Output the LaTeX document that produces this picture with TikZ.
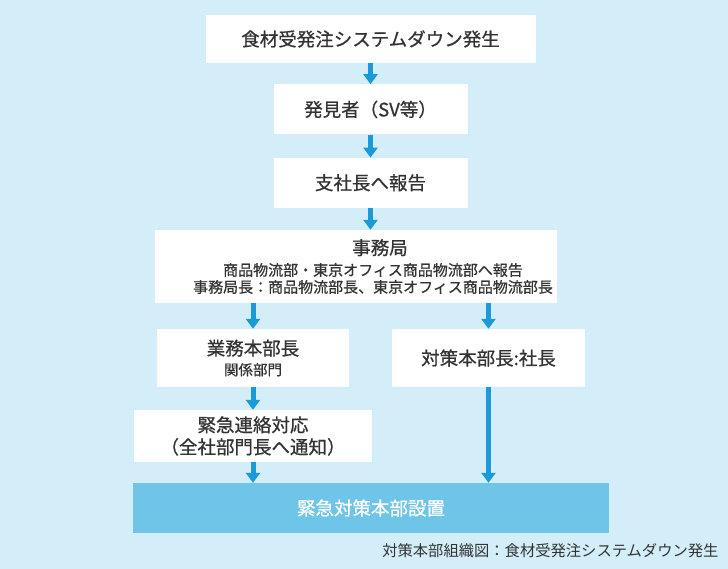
\documentclass[tikz,border=0pt]{standalone}
\usepackage{fontspec}
\setmainfont{Noto Sans CJK JP}
\newfontfamily\medfont{Noto Sans CJK JP}[FakeBold=0.7]
\usepackage{xcolor}
\usetikzlibrary{arrows.meta, positioning}
\definecolor{bgblue}{HTML}{D3EEF9}
\definecolor{arrowblue}{HTML}{1A9AD6}
\definecolor{setblue}{HTML}{6FC5E8}
\definecolor{txtgray}{HTML}{333333}

\begin{document}
\begin{tikzpicture}[x=1pt, y=-1pt, >={Triangle[width=14pt, length=10pt]},
        box/.style={rectangle, fill=white, text=txtgray, align=center, inner sep=0pt, font=\fontsize{18.5}{22}\selectfont\medfont},
        sub/.style={font=\fontsize{15}{17}\selectfont\medfont},
        flow/.style={->, draw=arrowblue, line width=5pt}]

        \fill[bgblue] (0,0) rectangle (728,569);
        \useasboundingbox (0,0) rectangle (728,569);

        \node (n1) [box, minimum width=330pt, minimum height=48pt] at (370.5,39) {食材受発注システムダウン発生};
        \node (n2) [box, minimum width=194pt, minimum height=50pt, below=21pt of n1] {発見者（SV等）};
        \node (n3) [box, minimum width=194pt, minimum height=50pt, below=23pt of n2] {支社長へ報告};
        \node (n4) [box, minimum width=402pt, minimum height=73pt, sub] at (356,266.5) {\hspace*{48pt}{\fontsize{18.5}{22}\selectfont 事務局}\\[4pt]\hspace*{34pt}商品物流部・東京オフィス商品物流部へ報告\\\hspace*{34pt}事務局長：商品物流部長、東京オフィス商品物流部長};
        \node (n5) [box, minimum width=192pt, minimum height=58pt] at (253,358) {業務本部長\\[-2pt]{\fontsize{14.5}{16}\selectfont 関係部門}};
        \node (n6) [box, minimum width=193pt, minimum height=58pt] at (488.5,358) {対策本部長:社長};
        \node (n7) [box, minimum width=238pt, minimum height=52pt] at (253,436) {緊急連絡対応\\（全社部門長へ通知）};
        \node (n8) [box, fill=setblue, text=white, minimum width=476pt, minimum height=50pt] at (371,508) {緊急対策本部設置};
        \node (cap) [anchor=east, text=txtgray, font=\fontsize{15.3}{17}\selectfont] at (722,551) {対策本部組織図：食材受発注システムダウン発生};

        \draw[flow] (n1) -- (n2);
        \draw[flow] (n2) -- (n3);
        \draw[flow] (n3.south) -- (n3.south |- n4.north);
        \draw[flow] (n4.south -| n5) -- (n5.north);
        \draw[flow] (n4.south -| n6) -- (n6.north);
        \draw[flow] (n5) -- (n7);
        \draw[flow] (n7.south) -- (n7.south |- n8.north);
        \draw[flow] (n6.south) -- (n6.south |- n8.north);
    \end{tikzpicture}
\end{document}
